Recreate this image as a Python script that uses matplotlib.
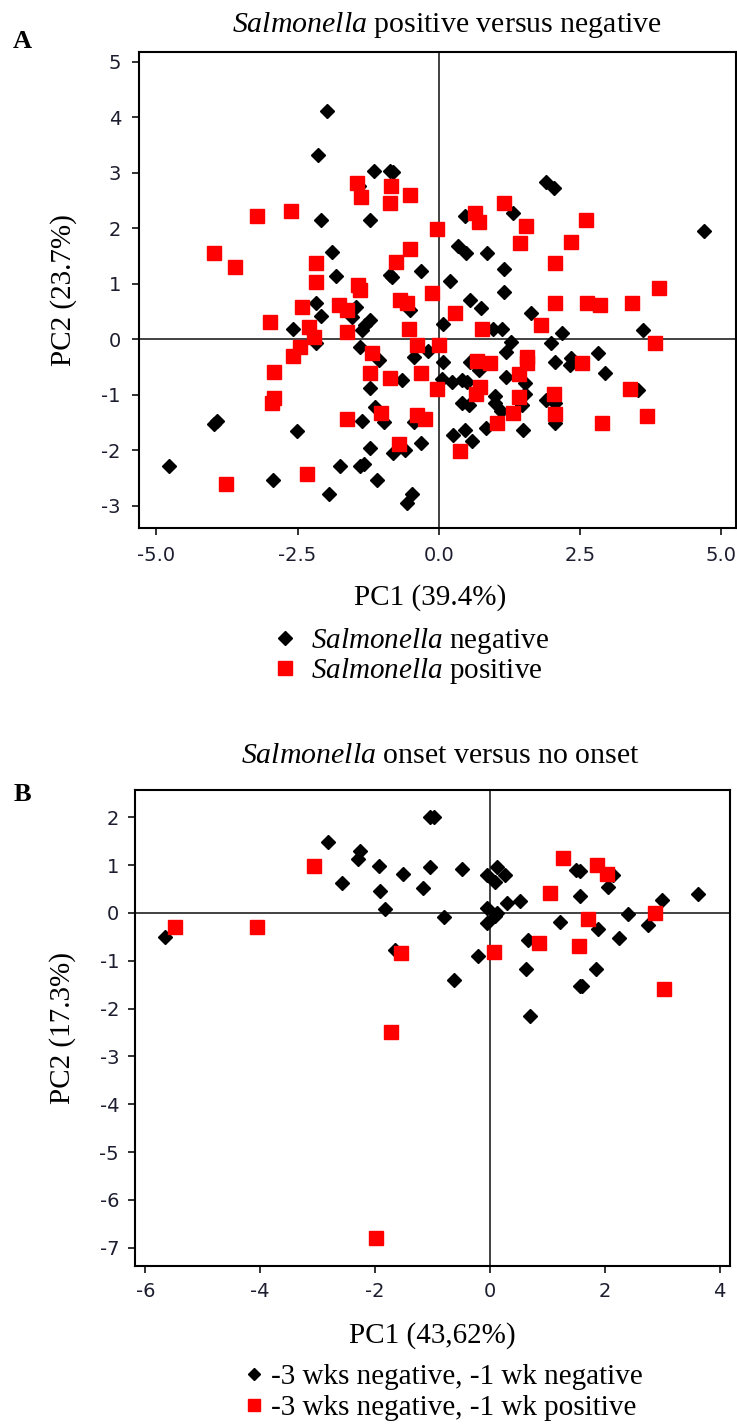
import numpy as np
import matplotlib
matplotlib.use('Agg')
import matplotlib.pyplot as plt
from matplotlib.lines import Line2D

plt.rcParams['axes.unicode_minus'] = False
plt.rcParams['mathtext.fontset'] = 'custom'
plt.rcParams['mathtext.it'] = 'Liberation Serif:italic'
plt.rcParams['mathtext.rm'] = 'Liberation Serif'

# panel A: Salmonella negative (black) / positive (red)
neg_a_pc1 = [-1.98, -2.14, -1.15, -0.87, -0.80, -1.42, -2.09, -1.22, -1.89, -1.82, -0.86, -0.82, -0.31,
             1.91, 2.04, 0.47, 1.32, 4.70, 0.35, 0.48, 0.85, 1.16, 0.21, 1.16,
             -2.18, -2.09, -1.47, -1.53, -1.21, -1.30, -1.36, -0.50, -2.58, -2.18, -1.39, -1.06, -0.44,
             -0.19, -0.65, -1.22, -1.12, -1.36, -0.97, -0.44, -3.98, -3.93, -2.51, -1.22, -0.80, -0.59,
             -0.31, -4.77, -1.74, -1.39, -1.33, -2.93, -1.10, -1.95, -0.47, -0.56,
             0.55, 0.75, 0.08, 1.63, 0.97, 1.13, 2.19, 3.62, 1.29, 1.20, 2.00, 2.83, 2.94, 0.08, 0.55,
             0.72, 2.06, 2.32, 2.35, 1.20, 0.06, 0.24, 0.41, 0.50, 1.53, 3.53, 1.00, 1.00, 0.41, 0.53,
             1.47, 1.53, 1.91, 2.06, 1.10, 2.06, 0.25, 0.47, 0.84, 0.60, 1.49]
neg_a_pc2 = [4.11, 3.33, 3.04, 3.03, 3.02, 2.76, 2.16, 2.16, 1.57, 1.15, 1.16, 1.12, 1.23,
             2.83, 2.73, 2.23, 2.28, 1.95, 1.69, 1.56, 1.56, 1.27, 1.06, 0.85,
             0.65, 0.42, 0.59, 0.41, 0.35, 0.26, 0.17, 0.53, 0.18, -0.07, -0.13, -0.37, -0.31,
             -0.21, -0.73, -0.88, -1.21, -1.48, -1.49, -1.49, -1.53, -1.48, -1.66, -1.96, -2.05, -1.99,
             -1.87, -2.28, -2.28, -2.28, -2.25, -2.54, -2.54, -2.79, -2.79, -2.95,
             0.71, 0.56, 0.27, 0.48, 0.18, 0.18, 0.11, 0.17, -0.04, -0.22, -0.07, -0.25, -0.61, -0.40, -0.41,
             -0.55, -0.40, -0.46, -0.34, -0.67, -0.72, -0.76, -0.73, -0.76, -0.79, -0.91, -1.02, -1.15, -1.15, -1.18,
             -1.18, -0.99, -1.09, -1.15, -1.29, -1.50, -1.72, -1.63, -1.60, -1.84, -1.63]
pos_a_pc1 = [-1.45, -1.37, -0.84, -0.87, -0.50, -3.22, -2.61, -0.03, -3.98, -3.61, -2.18, -2.18, -0.50,
             -0.75, -1.43, -1.40, -0.12,
             0.64, 0.72, 1.16, 1.54, 2.62, 1.44, 2.34, 2.06, 3.91,
             -2.42, -1.77, -1.62, -0.68, -0.56, -2.98, -2.30, -2.21, -1.62, -0.53, -2.45, -2.58, -1.18,
             -0.38, 0.00, -2.92, -1.22, -0.86, -0.31, -0.03, -2.92, -2.96, -1.62, -1.03, -0.38, -0.24,
             -0.71, -2.33, -3.76,
             0.29, 2.06, 2.63, 2.86, 3.43, 0.76, 1.81, 3.83, 0.68, 0.91, 1.56, 1.56, 2.54, 1.43, 0.73,
             0.67, 1.43, 2.04, 3.39, 1.32, 2.06, 1.04, 2.90, 3.70, 0.37]
pos_a_pc2 = [2.82, 2.56, 2.76, 2.46, 2.61, 2.23, 2.31, 1.99, 1.56, 1.30, 1.37, 1.03, 1.63,
             1.39, 0.98, 0.89, 0.84,
             2.28, 2.11, 2.46, 2.04, 2.16, 1.74, 1.75, 1.37, 0.92,
             0.58, 0.62, 0.53, 0.71, 0.65, 0.31, 0.23, 0.05, 0.14, 0.18, -0.13, -0.30, -0.24,
             -0.10, -0.10, -0.58, -0.60, -0.70, -0.61, -0.90, -1.06, -1.15, -1.44, -1.33, -1.36, -1.44,
             -1.89, -2.43, -2.61,
             0.47, 0.66, 0.66, 0.62, 0.66, 0.18, 0.26, -0.06, -0.39, -0.43, -0.31, -0.43, -0.43, -0.63, -0.85,
             -0.99, -1.03, -0.99, -0.90, -1.32, -1.35, -1.51, -1.51, -1.39, -2.01]

# panel B: onset (red) versus no onset (black)
neg_b_pc1 = [-2.82, -2.57, -2.26, -2.29, -1.93, -1.92, -1.83, -1.51, -1.16, -5.66, -1.05, -0.97, -1.04,
             -0.49, 0.12, -0.05, 0.27, 0.09, -0.05, 0.12, 0.09, -0.05, 0.30, 0.53, -0.80, 1.49, 1.57,
             2.15, 2.06, 1.57, 3.00, 3.62, 2.40, 2.75, 1.22, 1.89, 2.24, 0.67, -1.65, -0.21, -0.63,
             0.62, 1.84, 1.57, 1.61, 0.70]
neg_b_pc2 = [1.48, 0.63, 1.30, 1.12, 0.99, 0.45, 0.08, 0.81, 0.52, -0.51, 2.01, 2.01, 0.97,
             0.92, 0.97, 0.80, 0.80, 0.65, 0.10, 0.00, -0.06, -0.22, 0.20, 0.24, -0.08, 0.89, 0.87,
             0.80, 0.55, 0.36, 0.27, 0.39, -0.03, -0.25, -0.18, -0.34, -0.53, -0.56, -0.78, -0.89, -1.40,
             -1.17, -1.17, -1.52, -1.52, -2.15]
pos_b_pc1 = [-3.06, -5.49, -4.05, 1.27, 1.86, 2.03, 1.04, 2.87, 1.70, 0.85, 1.55, 0.07, -1.54, 3.03, -1.73, -1.98]
pos_b_pc2 = [0.99, -0.30, -0.30, 1.14, 1.00, 0.82, 0.41, 0.00, -0.13, -0.62, -0.70, -0.82, -0.84, -1.59, -2.49, -6.80]

titles = [r'$\mathit{Salmonella}$ positive versus negative', r'$\mathit{Salmonella}$ onset versus no onset']
xlabels = ['PC1 (39.4%)', 'PC1 (43,62%)']
ylabels = ['PC2 (23.7%)', 'PC2 (17.3%)']
legend_a = [r'$\mathit{Salmonella}$ negative', r'$\mathit{Salmonella}$ positive']
legend_b = ['-3 wks negative, -1 wk negative', '-3 wks negative, -1 wk positive']
xticks_a = [-5.0, -2.5, 0.0, 2.5, 5.0]
yticks_a = [-3, -2, -1, 0, 1, 2, 3, 4, 5]
xticks_b = [-6, -4, -2, 0, 2, 4]
yticks_b = [-7, -6, -5, -4, -3, -2, -1, 0, 1, 2]

W, H = 737, 1425
fig = plt.figure(figsize=(W / 100, H / 100), dpi=100)
serif = 'Liberation Serif'


def box(l, t, r, b):
    return [l / W, 1 - b / H, (r - l) / W, (b - t) / H]


def fx(x):
    return x / W


def fy(y):
    return 1 - y / H


def style(ax, xlim, ylim, xticks, yticks, xfmt, pad):
    ax.set_xlim(xlim)
    ax.set_ylim(ylim)
    ax.set_xticks(xticks)
    ax.set_yticks(yticks)
    ax.set_xticklabels([xfmt % t for t in xticks])
    ax.set_yticklabels(['%d' % t for t in yticks])
    for s in ax.spines.values():
        s.set_linewidth(1.5)
    ax.tick_params(length=5, width=1.3, color='#222222', labelcolor='#1d1d30',
                   labelsize=14, pad=pad)
    ax.axhline(0, color='#333333', lw=1.3, zorder=1)
    ax.axvline(0, color='#333333', lw=1.3, zorder=1)


axA = fig.add_axes(box(139, 52, 736, 528))
axB = fig.add_axes(box(135, 790, 730, 1266))

axA.plot(neg_a_pc1, neg_a_pc2, ls='none', marker='D', ms=7.2, color='black', zorder=3)
axA.plot(pos_a_pc1, pos_a_pc2, ls='none', marker='s', ms=10, color='#ff0000', zorder=4)
style(axA, (-5.31, 5.27), (-3.40, 5.18), xticks_a, yticks_a, '%.1f', 8)

axB.plot(neg_b_pc1, neg_b_pc2, ls='none', marker='D', ms=7.2, color='black', zorder=3)
axB.plot(pos_b_pc1, pos_b_pc2, ls='none', marker='s', ms=10, color='#ff0000', zorder=4)
style(axB, (-6.18, 4.18), (-7.38, 2.57), xticks_b, yticks_b, '%d', 6.5)

# panel letters, titles and axis labels
fig.text(fx(22), fy(42), 'A', ha='center', va='center', family=serif, weight='bold', fontsize=19)
fig.text(fx(22), fy(795), 'B', ha='center', va='center', family=serif, weight='bold', fontsize=19)
fig.text(fx(447), fy(32), titles[0], ha='center', va='baseline', family=serif, fontsize=21.5)
fig.text(fx(440), fy(763), titles[1], ha='center', va='baseline', family=serif, fontsize=21.5)
fig.text(fx(430), fy(605), xlabels[0], ha='center', va='baseline', family=serif, fontsize=21)
fig.text(fx(432), fy(1343), xlabels[1], ha='center', va='baseline', family=serif, fontsize=21)
fig.text(fx(64), fy(290), ylabels[0], ha='center', va='center', rotation=90, family=serif, fontsize=21)
fig.text(fx(63), fy(1028), ylabels[1], ha='center', va='center', rotation=90, family=serif, fontsize=21)

hA = [Line2D([], [], ls='none', marker='D', color='black', ms=7.2),
      Line2D([], [], ls='none', marker='s', color='#ff0000', ms=10)]
axA.legend(hA, legend_a, loc='upper left', bbox_to_anchor=(fx(270), fy(626)),
           bbox_transform=fig.transFigure, frameon=False, prop={'family': serif, 'size': 21},
           handlelength=1.0, handletextpad=0.4, borderpad=0, borderaxespad=0, labelspacing=0.0)

hB = [Line2D([], [], ls='none', marker='D', color='black', ms=6.5),
      Line2D([], [], ls='none', marker='s', color='#ff0000', ms=9)]
axB.legend(hB, legend_b, loc='upper left', bbox_to_anchor=(fx(245), fy(1364)),
           bbox_transform=fig.transFigure, frameon=False, prop={'family': serif, 'size': 21},
           handlelength=0.6, handletextpad=0.3, borderpad=0, borderaxespad=0, labelspacing=0.15)

fig.savefig('out.png', dpi=100)
